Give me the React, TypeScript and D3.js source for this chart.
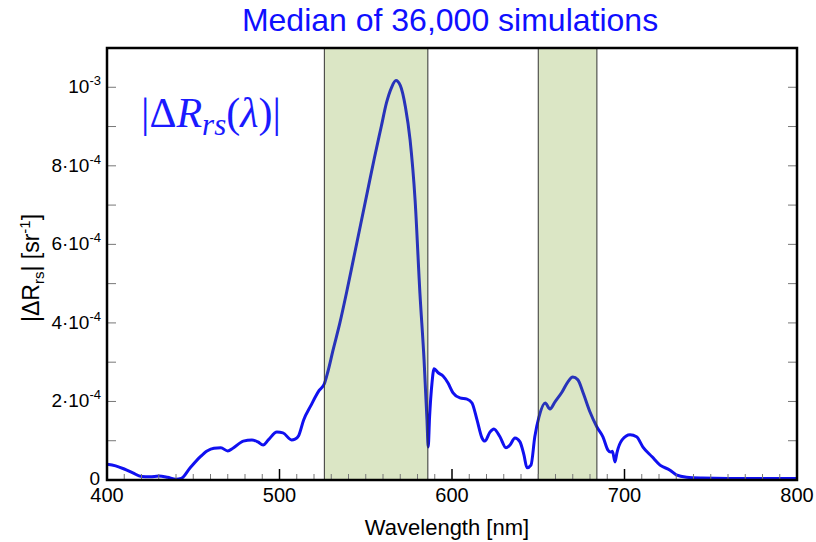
import React from "react";
import * as d3 from "d3";

const wavelengths = [400,405,410,415,420,425,430,435,440,443,448,454,458,462,466,470,473,479,484,487.5,490.5,493.5,498.5,502,507,509,511,514,518,523,526,528,531,535,539,543,547,551,555,559,562,565,567.5,570,573,575.7,578.6,581.4,583.8,585.5,586.2,587,588.4,589.6,592,594.8,597.7,600.6,604.6,608.7,611.6,614.5,617.4,619,622,624.3,627.8,631.3,633.6,636.5,639.4,641.7,643.5,645.8,648,650.4,654,656.8,659.7,663.8,667.2,670,673,676,680,684,687.5,690.4,692,693,694.5,695.6,698.6,703.2,707,710.7,716,720.6,726.4,730,736,745,760,800];
// |ΔRrs| in units of 1e-4 sr^-1
const deltaRrs = [0.40,0.36,0.28,0.18,0.09,0.08,0.10,0.07,0.02,0.04,0.30,0.59,0.74,0.81,0.82,0.74,0.81,0.99,1.02,0.97,0.89,1.02,1.22,1.20,1.02,1.04,1.12,1.53,1.88,2.28,2.45,2.75,3.3,4.0,4.8,5.65,6.5,7.35,8.2,9.0,9.6,10.0,10.17,10.05,9.5,8.66,7.13,4.76,3.06,1.53,0.84,1.6,2.47,2.83,2.73,2.65,2.47,2.22,2.09,2.06,1.96,1.53,1.07,0.99,1.22,1.30,1.10,0.82,0.89,1.07,0.97,0.64,0.31,0.38,1.10,1.60,1.96,1.81,1.99,2.24,2.50,2.62,2.55,2.22,1.73,1.35,1.10,0.76,0.71,0.73,0.46,0.69,1.02,1.15,1.10,0.84,0.59,0.38,0.25,0.13,0.07,0.05,0.04,0.04];

const bands: [number, number][] = [[526, 586], [650, 684]];
const xTicks = [400, 500, 600, 700, 800];
const yTickMantissa = [0, 2, 4, 6, 8, 10];

const W = 816, H = 542;
const left = 107, right = 797, top = 48, bottom = 480;

export default function App() {
  const x = d3.scaleLinear().domain([400, 800]).range([left, right]);
  const y = d3.scaleLinear().domain([0, 1.1e-3]).range([bottom, top]);
  const data = wavelengths.map((w, i) => [w, deltaRrs[i] * 1e-4] as [number, number]);
  const line = d3.line<[number, number]>().x(d => x(d[0])).y(d => y(d[1])).curve(d3.curveMonotoneX);
  const minorX = d3.range(410, 800, 10).filter(v => v % 100 !== 0);
  const yAll = d3.range(1, 11).map(v => v * 1e-4);
  const font = "Arial, 'Liberation Sans', sans-serif";
  const blue = "#1010f0";

  return (
    <svg width={W} height={H} style={{ position: "absolute", left: 0, top: 0, background: "#fff" }} fontFamily={font}>
      <text x={450} y={31} textAnchor="middle" fontSize={32} fill="#0f0fff">Median of 36,000 simulations</text>
      <defs>
        <clipPath id="plot"><rect x={left} y={top} width={right - left} height={bottom - top} /></clipPath>
      </defs>
      <path d={line(data) || ""} fill="none" stroke={blue} strokeWidth={3} strokeLinejoin="round" clipPath="url(#plot)" />
      {bands.map(([a, b], i) => (
        <g key={i}>
          <rect x={x(a)} y={top} width={x(b) - x(a)} height={bottom - top} fill="rgb(110,155,25)" fillOpacity={0.25} />
          <line x1={x(a)} x2={x(a)} y1={top} y2={bottom} stroke="#333" strokeWidth={1} />
          <line x1={x(b)} x2={x(b)} y1={top} y2={bottom} stroke="#333" strokeWidth={1} />
        </g>
      ))}
      {minorX.map(v => (
        <line key={"mx" + v} x1={x(v)} x2={x(v)} y1={bottom} y2={bottom - 6} stroke="#777" strokeWidth={1} />
      ))}
      {xTicks.map(v => (
        <line key={"Mx" + v} x1={x(v)} x2={x(v)} y1={bottom} y2={bottom - 11} stroke="#000" strokeWidth={1.5} />
      ))}
      {yAll.map(v => (
        <g key={"y" + v}>
          <line x1={left} x2={left + 9} y1={y(v)} y2={y(v)} stroke="#777" strokeWidth={1} />
          <line x1={right} x2={right - 9} y1={y(v)} y2={y(v)} stroke="#777" strokeWidth={1} />
        </g>
      ))}
      <rect x={left} y={top} width={right - left} height={bottom - top} fill="none" stroke="#000" strokeWidth={2.5} />
      {xTicks.map(v => (
        <text key={"xl" + v} x={x(v)} y={502} textAnchor="middle" fontSize={20} fill="#000">{v}</text>
      ))}
      {yTickMantissa.map(m => {
        const yy = y(m * 1e-4) + 6;
        if (m === 0) return <text key="y0" x={100} y={yy - 1} textAnchor="end" fontSize={19}>0</text>;
        if (m === 10) return (
          <text key="y10" x={101} y={yy} textAnchor="end" fontSize={19}>10<tspan fontSize={13} dy={-8}>-3</tspan></text>
        );
        return (
          <text key={"y" + m} x={101} y={yy} textAnchor="end" fontSize={19}>{m}·10<tspan fontSize={13} dy={-8}>-4</tspan></text>
        );
      })}
      <text x={447} y={535} textAnchor="middle" fontSize={22} fill="#000">Wavelength [nm]</text>
      <text transform="translate(39,268) rotate(-90)" textAnchor="middle" fontSize={23} fill="#000">
        |ΔR<tspan fontSize={15} dy={5}>rs</tspan><tspan dy={-5}>| [sr</tspan><tspan fontSize={15} dy={-9}>-1</tspan><tspan dy={9}>]</tspan>
      </text>
      <text x={141} y={127} fontSize={42} fill="#1a1aff" fontFamily="'Liberation Serif', 'DejaVu Serif', serif">
        |Δ<tspan fontStyle="italic">R</tspan><tspan fontStyle="italic" fontSize={31} dy={8}>rs</tspan><tspan dy={-8}>(</tspan><tspan fontStyle="italic">λ</tspan>)|
      </text>
    </svg>
  );
}
